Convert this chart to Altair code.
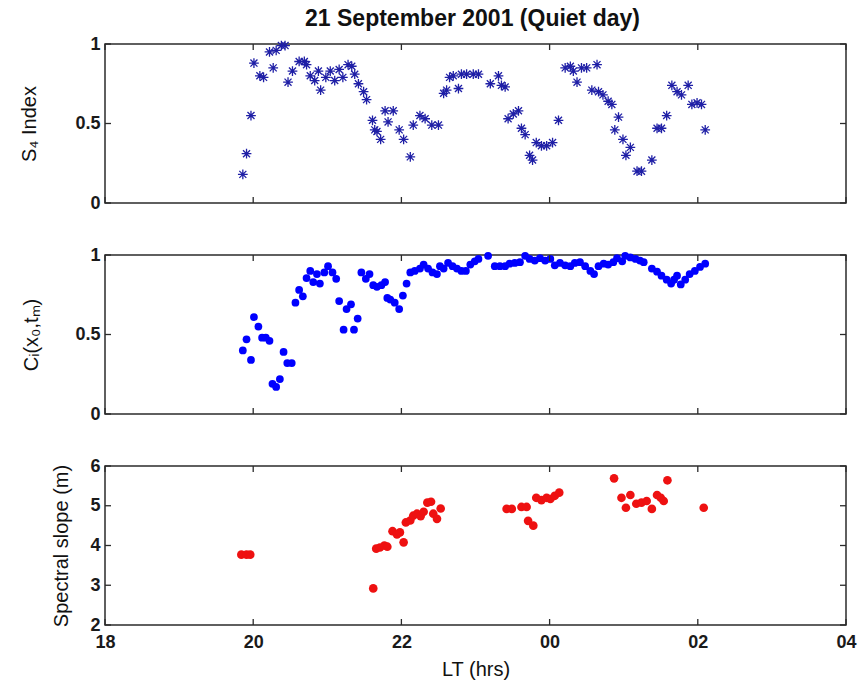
import altair as alt
import pandas as pd

TITLE = "21 September 2001 (Quiet day)"
X_TICKS = [18, 20, 22, 24, 26, 28]
S4_TICKS = [0, 0.5, 1]
C_TICKS = [0, 0.5, 1]
M_TICKS = [2, 3, 4, 5, 6]

s4_t = [19.86, 19.91, 19.97, 20.01, 20.09, 20.14, 20.22, 20.27, 20.31, 20.38,
        20.43, 20.47, 20.53, 20.62, 20.69, 20.72, 20.77, 20.83, 20.88, 20.91,
        20.98, 21.04, 21.10, 21.16, 21.21, 21.28, 21.33, 21.37, 21.42, 21.49,
        21.53, 21.61, 21.64, 21.67, 21.72, 21.78, 21.82, 21.89, 21.97, 22.03,
        22.12, 22.16, 22.25, 22.32, 22.41, 22.50, 22.57, 22.61, 22.65, 22.70,
        22.77, 22.81, 22.88, 22.97, 23.04, 23.20, 23.31, 23.35, 23.40, 23.44,
        23.51, 23.58, 23.62, 23.67, 23.73, 23.77, 23.82, 23.89, 23.96, 24.04,
        24.12, 24.21, 24.28, 24.32, 24.37, 24.43, 24.50, 24.57, 24.64, 24.66,
        24.72, 24.79, 24.84, 24.88, 24.93, 24.99, 25.03, 25.09, 25.18, 25.24,
        25.38, 25.45, 25.51, 25.58, 25.65, 25.72, 25.78, 25.87, 25.92, 25.99,
        26.05, 26.10]
s4_v = [0.18, 0.31, 0.55, 0.88, 0.80, 0.79, 0.95, 0.85, 0.96, 0.99,
        0.99, 0.76, 0.83, 0.89, 0.89, 0.87, 0.80, 0.77, 0.83, 0.71,
        0.79, 0.83, 0.77, 0.84, 0.79, 0.87, 0.86, 0.81, 0.75, 0.70,
        0.65, 0.52, 0.46, 0.45, 0.40, 0.58, 0.51, 0.58, 0.46, 0.40,
        0.29, 0.49, 0.55, 0.53, 0.49, 0.49, 0.69, 0.71, 0.79, 0.80,
        0.72, 0.81, 0.81, 0.81, 0.81, 0.75, 0.80, 0.74, 0.73, 0.53,
        0.56, 0.58, 0.47, 0.43, 0.30, 0.27, 0.38, 0.36, 0.36, 0.38,
        0.52, 0.85, 0.86, 0.83, 0.76, 0.85, 0.85, 0.71, 0.87, 0.70,
        0.68, 0.64, 0.62, 0.46, 0.54, 0.40, 0.30, 0.35, 0.20, 0.20,
        0.27, 0.47, 0.47, 0.55, 0.74, 0.70, 0.68, 0.74, 0.62, 0.63,
        0.62, 0.46]

c_t = [19.86, 19.91, 19.97, 20.01, 20.07, 20.12, 20.17, 20.22, 20.26, 20.31,
       20.36, 20.41, 20.46, 20.52, 20.57, 20.62, 20.67, 20.72, 20.77, 20.81,
       20.86, 20.90, 20.96, 21.01, 21.07, 21.12, 21.16, 21.22, 21.26, 21.32,
       21.36, 21.41, 21.46, 21.52, 21.57, 21.62, 21.67, 21.73, 21.78, 21.81,
       21.85, 21.91, 21.97, 22.02, 22.07, 22.12, 22.18, 22.25, 22.30, 22.36,
       22.42, 22.48, 22.52, 22.57, 22.63, 22.69, 22.75, 22.81, 22.87, 22.93,
       22.99, 23.04, 23.17, 23.26, 23.33, 23.40, 23.46, 23.53, 23.60, 23.67,
       23.73, 23.80, 23.87, 23.94, 24.01, 24.07, 24.14, 24.21, 24.28, 24.34,
       24.41, 24.48, 24.55, 24.60, 24.66, 24.73, 24.79, 24.86, 24.91, 24.98,
       25.02, 25.09, 25.16, 25.22, 25.27, 25.38, 25.45, 25.51, 25.58, 25.64,
       25.68, 25.72, 25.77, 25.83, 25.89, 25.96, 26.03, 26.10]
c_v = [0.40, 0.47, 0.34, 0.61, 0.55, 0.48, 0.48, 0.46, 0.19, 0.17,
       0.22, 0.39, 0.32, 0.32, 0.70, 0.78, 0.74, 0.855, 0.90, 0.83,
       0.88, 0.82, 0.89, 0.93, 0.89, 0.85, 0.71, 0.53, 0.66, 0.69,
       0.53, 0.60, 0.89, 0.85, 0.88, 0.81, 0.80, 0.81, 0.83, 0.73,
       0.72, 0.70, 0.66, 0.745, 0.82, 0.89, 0.90, 0.915, 0.94, 0.915,
       0.89, 0.88, 0.93, 0.915, 0.95, 0.93, 0.915, 0.90, 0.90, 0.94,
       0.96, 0.975, 0.995, 0.93, 0.93, 0.93, 0.945, 0.95, 0.955, 0.995,
       0.975, 0.965, 0.98, 0.965, 0.975, 0.935, 0.95, 0.935, 0.93, 0.95,
       0.955, 0.93, 0.90, 0.88, 0.93, 0.945, 0.94, 0.955, 0.98, 0.96,
       0.995, 0.985, 0.975, 0.965, 0.955, 0.915, 0.895, 0.87, 0.845, 0.82,
       0.845, 0.87, 0.815, 0.845, 0.88, 0.90, 0.925, 0.945]

m_t = [19.84, 19.91, 19.96,
       21.62, 21.66, 21.71, 21.77, 21.81, 21.88, 21.94, 21.98, 22.03, 22.06,
       22.12, 22.16, 22.21, 22.26, 22.30, 22.35, 22.40, 22.43, 22.48, 22.53,
       23.42, 23.49, 23.62, 23.69, 23.71, 23.78, 23.82, 23.89, 23.96, 24.01,
       24.07, 24.13,
       24.87, 24.97, 25.03, 25.09, 25.17, 25.24, 25.31, 25.38, 25.45, 25.50,
       25.54, 25.59,
       26.08]
m_v = [3.77, 3.77, 3.77,
       2.92, 3.92, 3.95, 4.00, 3.97, 4.36, 4.28, 4.33, 4.08, 4.58,
       4.63, 4.75, 4.80, 4.74, 4.85, 5.08, 5.10, 4.80, 4.67, 4.93,
       4.92, 4.92, 4.97, 4.97, 4.62, 4.50, 5.20, 5.14, 5.20, 5.17,
       5.25, 5.33,
       5.69, 5.20, 4.95, 5.27, 5.05, 5.08, 5.12, 4.92, 5.27, 5.20,
       5.12, 5.64,
       4.95]

W, H = 741, 159
TL = 6
FONT = "Liberation Sans"
FRAME = "#2b2b2b"
ASTERISK = "M-1,0L1,0M0,-1L0,1M-0.72,-0.72L0.72,0.72M-0.72,0.72L0.72,-0.72"

x_scale = alt.Scale(domain=[18, 28], nice=False, zero=False)


def y_axis(values, title, title_x):
    return alt.Axis(values=values, title=title, format="~g", ticks=False, tickSize=0,
                    domain=False, grid=False, labelFontSize=18, labelFontWeight="bold",
                    labelPadding=5, labelColor="#1a1a1a", labelFlush=False,
                    titleFontSize=20, titleFontWeight="normal",
                    titleColor="#111", titleX=title_x, titleY=H / 2,
                    titleAngle=270, titleAlign="center", titleBaseline="middle")


def x_axis(show):
    if not show:
        return alt.Axis(values=X_TICKS, ticks=False, tickSize=0, domain=False,
                        grid=False, labels=False, title=None)
    return alt.Axis(values=X_TICKS, ticks=False, tickSize=0, domain=False, grid=False,
                    labelExpr="(datum.value % 24) < 10 ? '0' + (datum.value % 24) : '' + (datum.value % 24)",
                    labelFontSize=18, labelFontWeight="bold", labelPadding=8,
                    labelColor="#1a1a1a", labelFlush=False,
                    title="LT (hrs)", titleFontSize=20, titleFontWeight="normal",
                    titleColor="#111", titlePadding=8)


def panel(df, mark, y_ticks, y_scale, ytitle, title_x, show_x):
    xa = x_axis(show_x)
    ya = y_axis(y_ticks, ytitle, title_x)
    pts = mark.encode(
        x=alt.X("t:Q", scale=x_scale, axis=xa),
        y=alt.Y("v:Q", scale=y_scale, axis=ya),
    )
    xt = pd.DataFrame({"t": X_TICKS})
    yt = pd.DataFrame({"v": y_ticks})
    rx = alt.X("t:Q", scale=x_scale, axis=xa)
    ry = alt.Y("v:Q", scale=y_scale, axis=ya)
    bx = alt.Chart(xt).mark_rule(color=FRAME, strokeWidth=1.3)
    by = alt.Chart(yt).mark_rule(color=FRAME, strokeWidth=1.3)
    layers = [
        pts,
        bx.encode(x=rx, y=alt.value(0), y2=alt.value(TL)),
        bx.encode(x=rx, y=alt.value(H), y2=alt.value(H - TL)),
        by.encode(y=ry, x=alt.value(0), x2=alt.value(TL)),
        by.encode(y=ry, x=alt.value(W), x2=alt.value(W - TL)),
    ]
    return alt.layer(*layers).properties(width=W, height=H)


df1 = pd.DataFrame({"t": s4_t, "v": s4_v})
df2 = pd.DataFrame({"t": c_t, "v": c_v})
df3 = pd.DataFrame({"t": m_t, "v": m_v})

p1 = panel(df1, alt.Chart(df1).mark_point(shape=ASTERISK, filled=False, size=95,
                                          strokeWidth=1.3, color="#1f1fa6", opacity=1),
           S4_TICKS, alt.Scale(domain=[0, 1], nice=False, zero=False),
           "S₄ Index", -76, False).properties(
    title=alt.TitleParams(TITLE, frame="group", anchor="middle", fontSize=23,
                          fontWeight="bold", font=FONT, color="#111",
                          baseline="alphabetic", offset=-14, dx=-3)
)
p2 = panel(df2, alt.Chart(df2).mark_circle(size=60, color="#0000ff", opacity=1),
           C_TICKS, alt.Scale(domain=[0, 1], nice=False, zero=False),
           "Cᵢ(x₀,tₘ)", -74, False)
p3 = panel(df3, alt.Chart(df3).mark_circle(size=75, color="#ee1111", opacity=1),
           M_TICKS, alt.Scale(domain=[2, 6], nice=False, zero=False),
           "Spectral slope (m)", -44, True)

chart = alt.vconcat(p1, p2, p3, spacing=52, bounds="flush").properties(
    padding={"left": 18, "top": 7, "right": 8, "bottom": 4},
    background="white",
).configure(font=FONT).configure_view(
    stroke=FRAME, strokeWidth=1.5
)

chart.save("out.html", embed_options={"renderer": "svg", "actions": False})
